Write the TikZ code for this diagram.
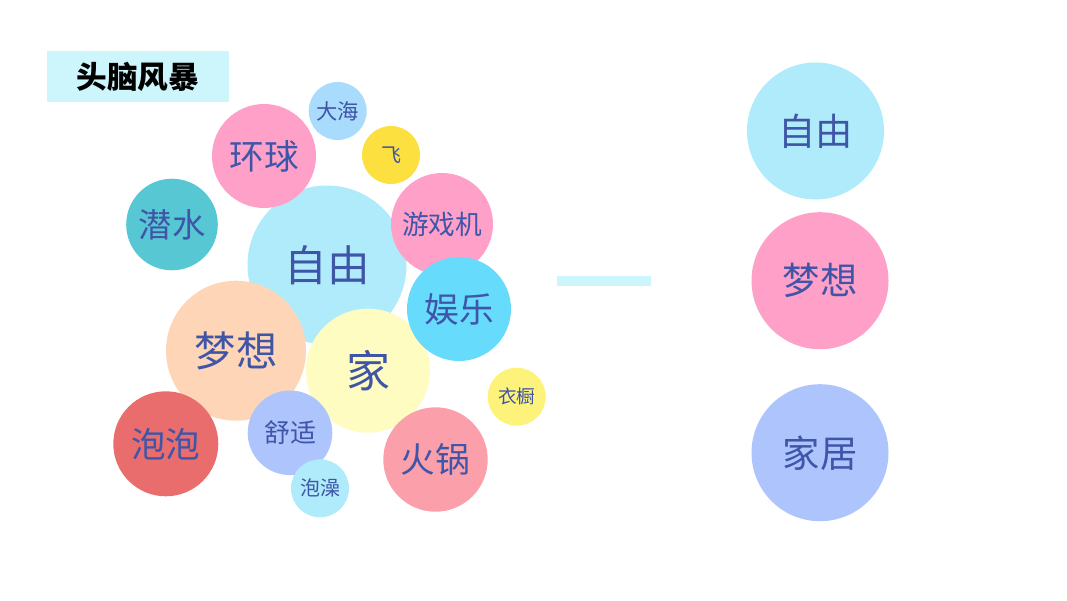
\documentclass[tikz,border=0pt]{standalone}
\usepackage{fontspec}
\newfontfamily\cjk{Noto Sans CJK SC}
\definecolor{txt}{HTML}{3F55A8}
\definecolor{cfree}{HTML}{B0EBFC}
\definecolor{cpink}{HTML}{FFA0C8}
\definecolor{csea}{HTML}{A9DBFC}
\definecolor{cfly}{HTML}{FBE03F}
\definecolor{cdive}{HTML}{57C7D3}
\definecolor{cfun}{HTML}{66DBFC}
\definecolor{cdream}{HTML}{FFD5B8}
\definecolor{chome}{HTML}{FFFCC2}
\definecolor{cward}{HTML}{FDF37A}
\definecolor{cbub}{HTML}{E96D6D}
\definecolor{ccomf}{HTML}{AEC4FC}
\definecolor{cpot}{HTML}{FBA0AA}
\definecolor{cbar}{HTML}{CCF5FC}
\tikzset{
  bub/.style={circle, inner sep=0pt, minimum size=#1*1.5pt, text=txt},
  fs/.style={font=\cjk\fontsize{#1}{#1}\selectfont},
}
\begin{document}
\begin{tikzpicture}[x=0.75pt,y=-0.75pt]
\useasboundingbox (0,0) rectangle (1067,600);
% title
\node[fill=cbar, minimum width=182*0.75pt, minimum height=51*0.75pt, inner sep=0pt,
      font=\cjk\bfseries\fontsize{23}{23}\selectfont, text=black] (title) at (137.7,76.4) {头脑风暴};
% left cluster
\node[bub=79.5, fill=cfree, fs=32] (ziyou) at (327,265) {自由};
\node[bub=70, fill=cdream, fs=31] (mengxiang) at (236,350.7) {梦想};
\node[bub=62, fill=chome, fs=33] (jia) at (368,370.7) {家};
\node[bub=52, fill=cpink, fs=26] (huanqiu) at (264,156) {环球};
\node[bub=29, fill=csea, fs=16] (dahai) at (337.7,111) {大海};
\node[bub=29, fill=cfly, fs=15] (fei) at (391,155) {飞};
\node[bub=45.8, fill=cdive, fs=25] (qianshui) at (172,224.5) {潜水};
\node[bub=51, fill=cpink, fs=20] (youxiji) at (442,224) {游戏机};
\node[bub=52, fill=cfun, fs=26] (yule) at (459,309) {娱乐};
\node[bub=29, fill=cward, fs=14] (yichu) at (516.7,396.7) {衣橱};
\node[bub=52.5, fill=cbub, fs=26] (paopao) at (165.8,443.8) {泡泡};
\node[bub=42.3, fill=ccomf, fs=19.5] (shushi) at (290,432.8) {舒适};
\node[bub=29, fill=cfree, fs=15] (paozao) at (320,488.3) {泡澡};
\node[bub=52.2, fill=cpot, fs=26] (huoguo) at (435.5,459.5) {火锅};
% bar
\fill[cbar] (556.7,275.7) rectangle (651,285.7);
% right column
\node[bub=68.5, fill=cfree, fs=28] (r1) at (815.5,131) {自由};
\node[bub=68.5, fill=cpink, fs=28] (r2) at (820,280.7) {梦想};
\node[bub=68.5, fill=ccomf, fs=28] (r3) at (820,452.7) {家居};
\end{tikzpicture}
\end{document}
